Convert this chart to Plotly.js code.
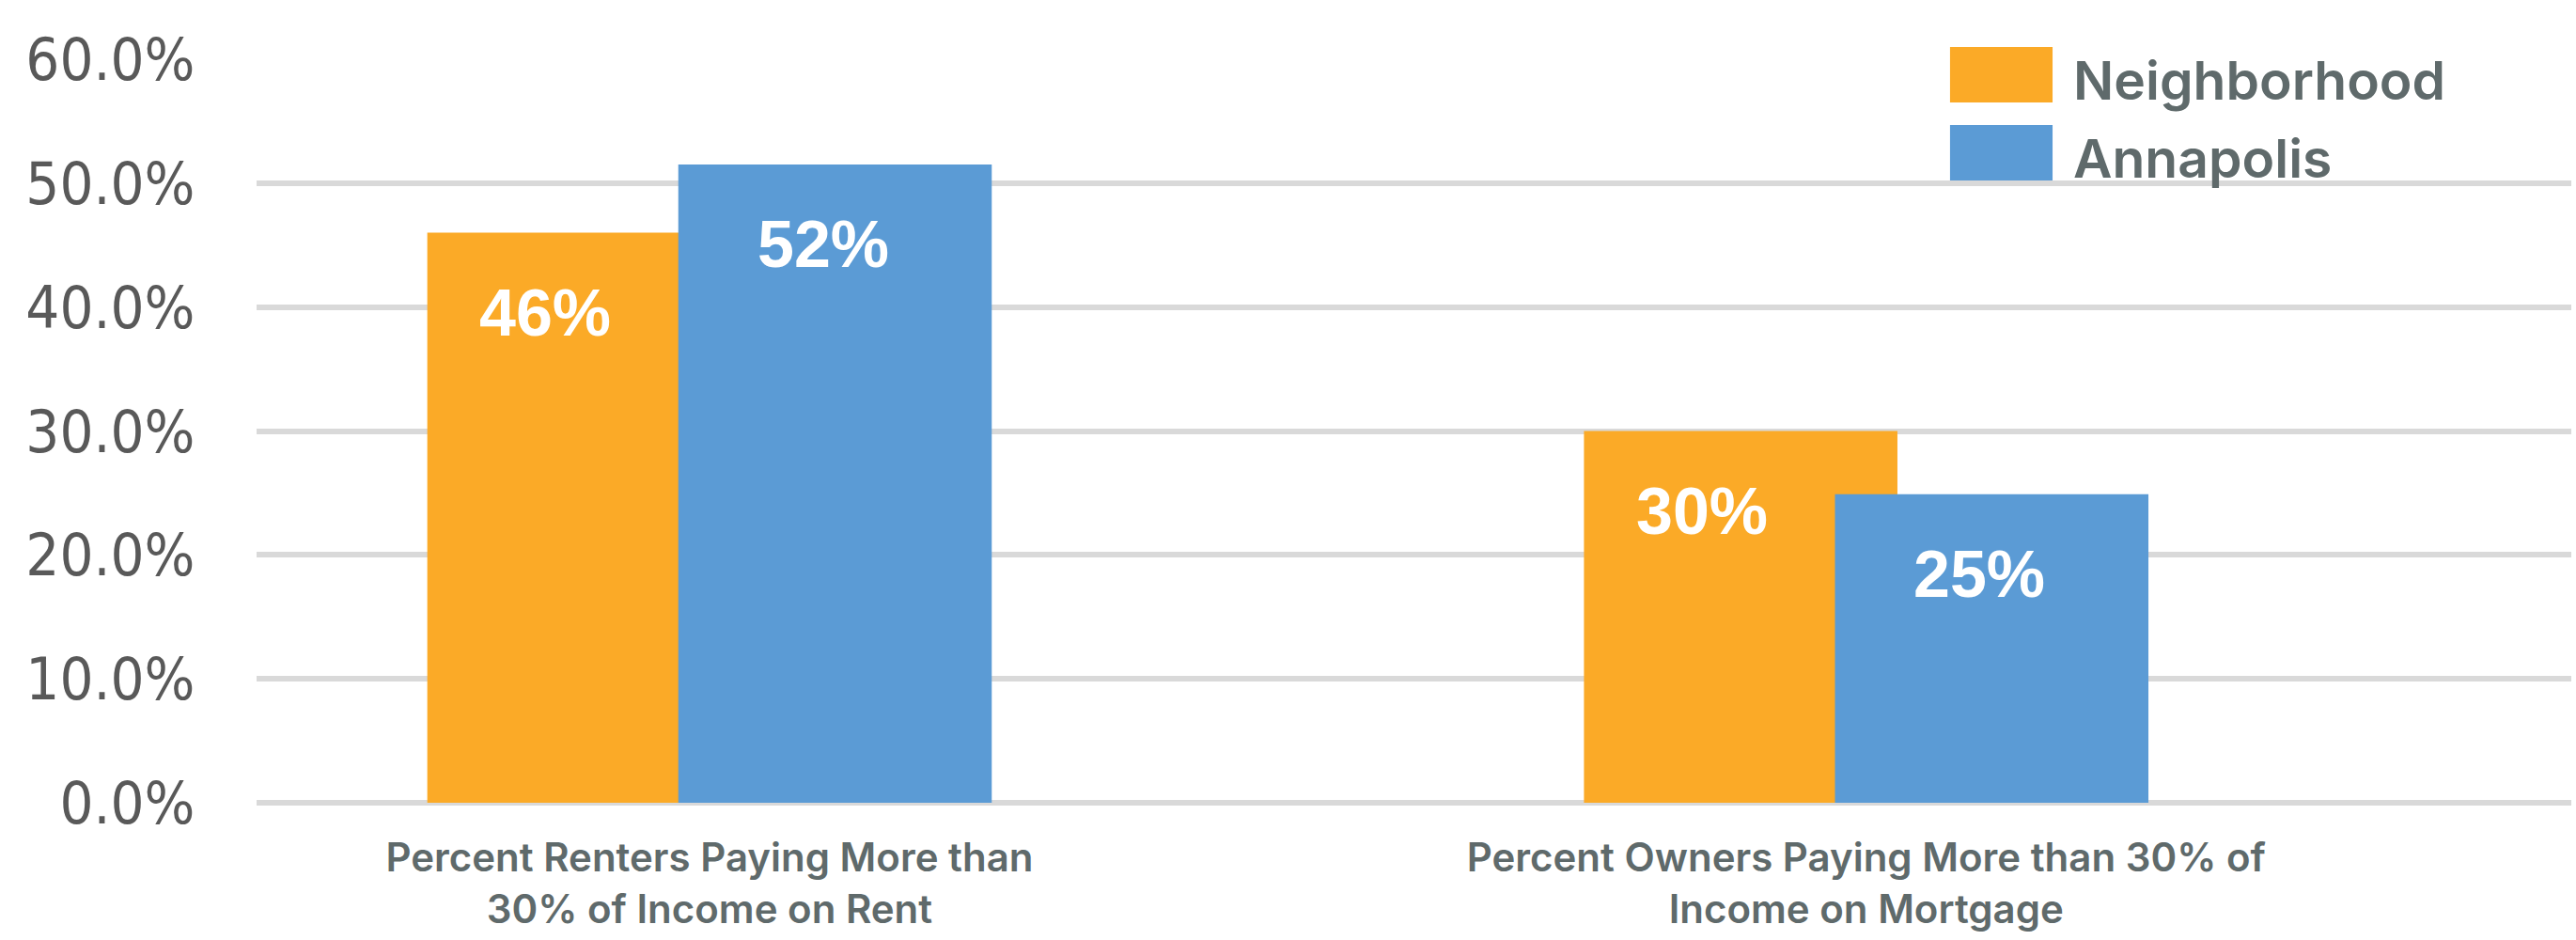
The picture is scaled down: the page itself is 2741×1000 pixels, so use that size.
<!DOCTYPE html>
<html>
<head>
<meta charset="utf-8">
<script src="https://cdn.plot.ly/plotly-3.0.1.min.js"></script>
<style>
  html, body { margin: 0; padding: 0; background: #ffffff; }
  #chart { width: 2741px; height: 1000px; }
</style>
</head>
<body>
<div id="chart"></div>
<script>
// ---- data ----
const categories = [
  "Percent Renters Paying More than<br>30% of Income on Rent",
  "Percent Owners Paying More than 30% of<br>Income on Mortgage"
];
const seriesNames = ["Neighborhood", "Annapolis"];
const neighborhoodValues = [0.46, 0.30];
const annapolisValues = [0.515, 0.249];
const dataLabels = [["46%", "30%"], ["52%", "25%"]];
const yTickValues = [0, 0.1, 0.2, 0.3, 0.4, 0.5, 0.6];

// ---- styles ----
const colors = ["#FBAA27", "#5B9BD5"];
const barWidth = 0.271;
const barOffsets = [-0.244, -0.027];
const labelXShift = [-41, -13];
const seriesValues = [neighborhoodValues, annapolisValues];
const textGray = "#5F6A6B";
const axisGray = "#595959";
const gridGray = "#D9D9D9";
const catFont = '"Inter", "Open Sans", sans-serif';

const xIdx = categories.map((c, i) => i);

const traces = seriesNames.map((name, s) => ({
  type: "bar",
  name: name,
  x: xIdx,
  y: seriesValues[s],
  width: barWidth,
  offset: barOffsets[s],
  marker: { color: colors[s], line: { width: 0 } },
  hoverinfo: "skip",
  showlegend: false
}));

const annotations = [];
seriesNames.forEach((name, s) => {
  seriesValues[s].forEach((v, i) => {
    annotations.push({
      x: xIdx[i] + barOffsets[s] + barWidth / 2,
      y: v,
      xref: "x", yref: "y",
      text: dataLabels[s][i],
      showarrow: false,
      xanchor: "center", yanchor: "top",
      xshift: labelXShift[s], yshift: -44,
      font: { family: '"Liberation Sans", Arial, sans-serif', size: 70, color: "#FFFFFF", weight: "bold" }
    });
  });
});

// custom legend (large swatches like the original)
const shapes = [];
const legendTop = [1.0164, 0.9115];
const swatchH = 0.0745;
seriesNames.forEach((name, s) => {
  shapes.push({
    type: "rect", xref: "paper", yref: "paper",
    x0: 0.7316, x1: 0.7759,
    y0: legendTop[s] - swatchH, y1: legendTop[s],
    fillcolor: colors[s], line: { width: 0 }, layer: "above"
  });
  annotations.push({
    xref: "paper", yref: "paper",
    x: 0.784, y: legendTop[s] - swatchH / 2,
    xanchor: "left", yanchor: "middle",
    yshift: -6,
    text: name, showarrow: false,
    font: { family: catFont, size: 57, color: textGray, weight: 600 }
  });
});

const layout = {
  width: 2741,
  height: 1000,
  margin: { l: 273, r: 5, t: 63, b: 146 },
  paper_bgcolor: "#FFFFFF",
  plot_bgcolor: "#FFFFFF",
  barmode: "overlay",
  showlegend: false,
  xaxis: {
    type: "linear",
    range: [-0.3916, 1.6096],
    tickmode: "array",
    tickvals: xIdx,
    ticktext: categories,
    showgrid: false,
    zeroline: false,
    showline: false,
    ticks: "outside",
    ticklen: 22,
    tickcolor: "rgba(0,0,0,0)",
    tickfont: { family: catFont, size: 42, color: textGray, weight: 600 }
  },
  yaxis: {
    range: [0, 0.6],
    tickmode: "array",
    tickvals: yTickValues,
    tickformat: ".1%",
    showgrid: true,
    gridcolor: gridGray,
    gridwidth: 6,
    zeroline: true,
    zerolinecolor: gridGray,
    zerolinewidth: 6,
    showline: false,
    ticks: "outside",
    ticklen: 52,
    tickcolor: "rgba(0,0,0,0)",
    tickfont: { family: '"Liberation Sans Narrow", "Arial Narrow", "DejaVu Sans Condensed", sans-serif', size: 63, color: axisGray }
  },
  annotations: annotations,
  shapes: shapes
};

Plotly.newPlot("chart", traces, layout, { displayModeBar: false, staticPlot: true });
</script>
</body>
</html>
